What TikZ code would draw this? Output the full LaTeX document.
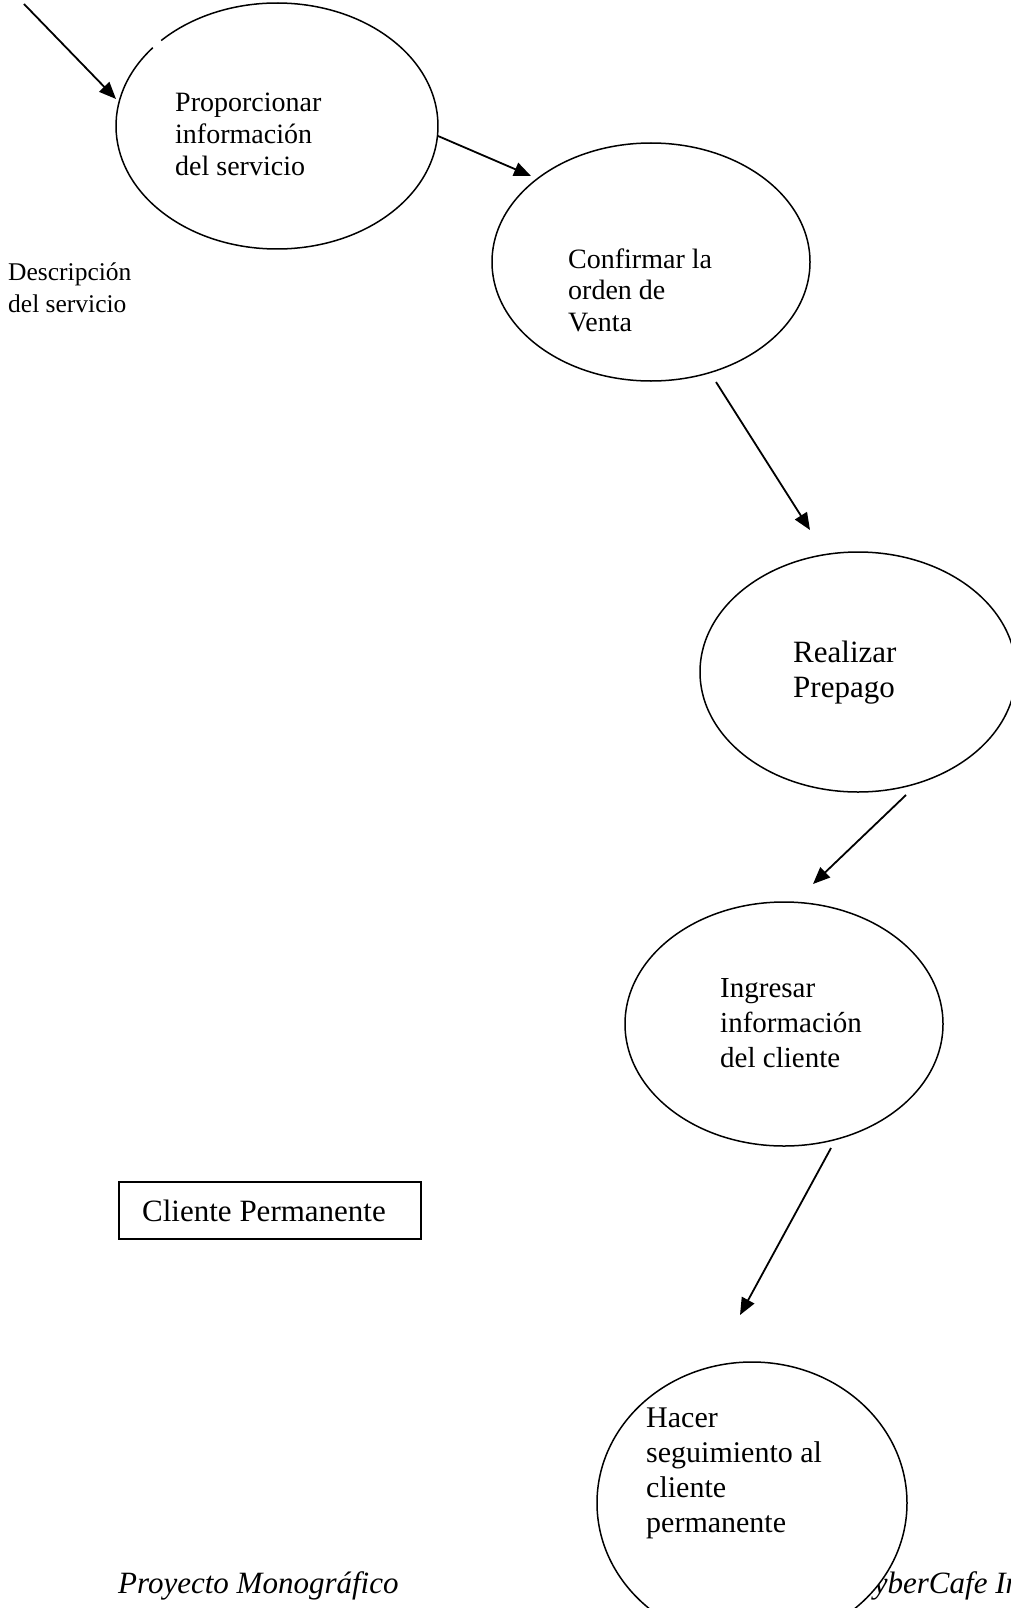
\documentclass[tikz,border=0pt]{standalone}
\usepackage{fontspec}
\setmainfont{Liberation Serif}
\usetikzlibrary{arrows.meta,shapes.geometric}
\begin{document}
\begin{tikzpicture}[x=1pt,y=-1pt,
  bubble/.style={ellipse,draw,line width=1.5pt,inner sep=0pt,fill=white},
  flow/.style={line width=1.8pt,-{Triangle[length=17pt,width=14pt]}},
  txt/.style={anchor=base west,inner sep=0pt}]
\useasboundingbox (0,0) rectangle (1011,1608);

% footer, partly hidden behind the last bubble
\node[txt] (foot1) at (118,1593) {\fontsize{31}{36}\selectfont\itshape Proyecto Monográfico};
\node[txt] (foot2) at (853,1593) {\fontsize{31}{36}\selectfont\itshape CyberCafe In};

% process bubbles
\node[ellipse,inner sep=0pt,minimum width=322pt,minimum height=246pt] (e1) at (277,126) {};
\draw[line width=1.5pt] (e1.center) ++(224:161 and 123)
  arc[start angle=224,end angle=579.5,x radius=161,y radius=123];
\node[bubble,minimum width=318pt,minimum height=238pt] (e2) at (651,262) {};
\node[bubble,minimum width=316pt,minimum height=240pt] (e3) at (858,672) {};
\node[bubble,minimum width=318pt,minimum height=244pt] (e4) at (784,1024) {};
\node[bubble,minimum width=310pt,minimum height=282pt] (e5) at (752,1503) {};

% bubble texts
\node[txt] (t1) at (175,112) {\fontsize{28}{32}\selectfont
  \begin{tabular}[t]{@{}l@{}}Proporcionar\\información\\del servicio\end{tabular}};
\node[txt] (t2) at (568,268) {\fontsize{28}{31.5}\selectfont
  \begin{tabular}[t]{@{}l@{}}Confirmar la\\orden de\\Venta\end{tabular}};
\node[txt] (t3) at (793,662) {\fontsize{31}{35}\selectfont
  \begin{tabular}[t]{@{}l@{}}Realizar\\Prepago\end{tabular}};
\node[txt] (t4) at (720,997) {\fontsize{29}{35}\selectfont
  \begin{tabular}[t]{@{}l@{}}Ingresar\\información\\del cliente\end{tabular}};
\node[txt] (t5) at (646,1427) {\fontsize{30}{35}\selectfont
  \begin{tabular}[t]{@{}l@{}}Hacer\\seguimiento al\\cliente\\permanente\end{tabular}};

% side labels
\node[txt] (desc) at (8,280) {\fontsize{25.5}{32}\selectfont
  \begin{tabular}[t]{@{}l@{}}Descripción\\del servicio\end{tabular}};
\node[draw,line width=1.4pt,inner sep=0pt,minimum width=302pt,minimum height=57pt] (box) at (270,1210.5) {};
\node[txt] (boxt) at (142,1221) {\fontsize{31}{36}\selectfont Cliente Permanente};

% connector ends
\coordinate (c0s) at (24,4);   \coordinate (c0e) at (116,99);
\coordinate (c12s) at (438,136); \coordinate (c12e) at (531,176);
\coordinate (c23s) at (716,382); \coordinate (c23e) at (810,530);
\coordinate (c34s) at (906,795); \coordinate (c34e) at (813,884);
\coordinate (c45s) at (831,1148); \coordinate (c45e) at (740,1315);

\draw[flow] (c0s) -- (c0e);
\draw[flow] (c12s) -- (c12e);
\draw[flow] (c23s) -- (c23e);
\draw[flow] (c34s) -- (c34e);
\draw[flow] (c45s) -- (c45e);
\end{tikzpicture}
\end{document}
